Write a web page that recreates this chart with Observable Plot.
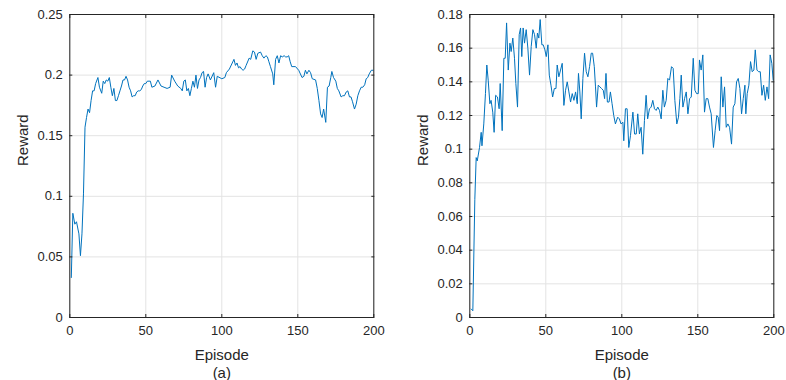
<!DOCTYPE html>
<html>
<head>
<meta charset="utf-8">
<script src="https://cdn.jsdelivr.net/npm/d3@7"></script>
<script src="https://cdn.jsdelivr.net/npm/@observablehq/plot@0.6"></script>
<style>
  html, body { margin: 0; padding: 0; background: #fff; }
  #wrap { width: 786px; height: 380px; display: flex; overflow: hidden; }
  #wrap > div { width: 393px; height: 380px; }
</style>
</head>
<body>
<div id="wrap"><div id="a"></div><div id="b"></div></div>
<script>
const xTicks = [0, 50, 100, 150, 200];
const yTicksA = [0, 0.05, 0.1, 0.15, 0.2, 0.25];
const yTicksB = [0, 0.02, 0.04, 0.06, 0.08, 0.1, 0.12, 0.14, 0.16, 0.18];
const panelLabels = ["(a)", "(b)"];
const xLabel = "Episode";
const yLabel = "Reward";

const episodesA = [1,2,3.3,4.4,6,7,8,9,10,11,12,13,14,15,16,17,18.5,19.5,21,22,23,24,25,26,27,28,29,30,31,32,33,34,35,36,37,38,39,40,41,42,43,44,45,46,47,48,49,50,51,53,54,56,58,60,62,64,66,67,69,71,73,74,75,76,77,78,79,80,81,82,83,84,85,86,87,88,89,90,91,92.5,94.7,95.9,97,100,102,103,105,108,109,110,111,112,113,114,115,116,118,119,120.4,121.5,122.6,123.7,125.5,126.6,127.7,129,130,131,132,133.5,134.2,135.4,136.5,137.6,138.7,139.8,141,142,143,144,145,146,148.5,150.6,152.8,154,155,156,157.3,158.4,159.5,161.7,162.8,163.9,165,166,167,168.4,169.5,170.6,171.7,172.4,173.5,175,176,177,178.5,179.6,180.7,181.8,182.9,184,185,186,187.3,188.4,189.5,190.6,191.7,192.8,194,195,196,197,198.4,199.5];
const rewardA = [0.033,0.086,0.077,0.079,0.069,0.051,0.069,0.102,0.157,0.165,0.172,0.169,0.179,0.187,0.187,0.193,0.198,0.190,0.185,0.195,0.193,0.196,0.195,0.198,0.190,0.183,0.189,0.179,0.179,0.183,0.187,0.191,0.196,0.196,0.199,0.196,0.190,0.187,0.182,0.183,0.183,0.186,0.187,0.187,0.188,0.191,0.193,0.193,0.195,0.195,0.190,0.191,0.196,0.191,0.190,0.189,0.190,0.200,0.195,0.191,0.189,0.187,0.195,0.196,0.187,0.189,0.183,0.189,0.195,0.190,0.200,0.189,0.196,0.198,0.202,0.203,0.190,0.198,0.201,0.196,0.202,0.190,0.199,0.197,0.198,0.202,0.205,0.213,0.208,0.210,0.206,0.207,0.205,0.204,0.205,0.208,0.214,0.213,0.220,0.219,0.213,0.218,0.219,0.216,0.214,0.216,0.215,0.211,0.207,0.201,0.192,0.213,0.216,0.210,0.216,0.215,0.216,0.215,0.215,0.216,0.211,0.207,0.207,0.204,0.198,0.199,0.204,0.201,0.204,0.202,0.197,0.196,0.189,0.179,0.168,0.165,0.172,0.161,0.190,0.191,0.198,0.203,0.198,0.195,0.189,0.187,0.182,0.183,0.183,0.186,0.187,0.182,0.182,0.178,0.172,0.176,0.183,0.187,0.190,0.190,0.192,0.197,0.198,0.201,0.204,0.204];

const episodesB = [1,2,3.3,4.2,4.9,6.4,7.5,8,9.2,10.3,11.2,12.1,13.2,14,15.1,16,17,18.2,19.3,20,21.3,22.4,23.3,24.2,25.3,26.4,27.2,28.3,29.4,30.3,31.4,32.5,33.4,34.2,35.1,36,37.1,38.2,39.3,40.4,41.5,42.6,43.7,44.5,45.4,46.3,47.4,48.3,49.4,50.3,51.4,52.3,53.4,54.5,55.6,56.7,57.5,58.6,59.7,60.8,61.9,63,64.1,65.2,66.3,67.4,68.5,69.6,70.7,71.5,72.4,73.3,74.4,75.5,76.6,77.7,78.8,79.9,80.8,81.9,82.7,83.4,84.5,85.6,86.7,87.8,88.7,89.6,90.5,91.6,92.5,93.6,94.7,95.8,97.3,98.4,99.5,100.7,101.3,102.4,103.5,104.6,105.7,107.3,108.4,109.5,110.5,111.6,112.7,113.8,114.9,116,117,118.2,119.3,120.4,121.5,122.6,123.7,124.8,125.9,127,128,129.2,130.3,131.4,132.7,133.8,134.9,136.2,137.3,138.2,139.1,140.2,141.3,142.4,143.5,144.6,145.7,147,148.1,149.2,150.3,151.1,152.2,153.3,154.4,155.5,156.6,157.7,158.8,160.3,161.4,162.5,163.4,164.3,165.4,166.5,167.6,168.7,169.8,170.9,172.2,173.3,174.4,175.5,176.6,177.7,178.8,179.9,181,181.6,182.5,183.6,184.7,185.8,186.9,187.8,188.9,190,191.1,192.2,193.3,194.4,195.5,196.6,197.6,198.7,199.6];
const rewardB = [0.005,0.004,0.070,0.095,0.093,0.101,0.110,0.102,0.115,0.133,0.150,0.141,0.127,0.129,0.122,0.110,0.132,0.131,0.124,0.139,0.111,0.154,0.154,0.175,0.147,0.163,0.158,0.166,0.154,0.139,0.125,0.168,0.172,0.155,0.172,0.163,0.171,0.160,0.144,0.161,0.171,0.168,0.160,0.169,0.166,0.177,0.162,0.162,0.159,0.155,0.162,0.144,0.138,0.131,0.136,0.136,0.150,0.143,0.147,0.151,0.126,0.135,0.140,0.134,0.128,0.133,0.129,0.134,0.127,0.145,0.134,0.118,0.142,0.157,0.146,0.143,0.149,0.157,0.157,0.149,0.137,0.125,0.138,0.137,0.136,0.135,0.130,0.145,0.128,0.128,0.134,0.127,0.120,0.115,0.119,0.118,0.115,0.116,0.105,0.124,0.124,0.101,0.108,0.122,0.109,0.109,0.121,0.109,0.113,0.097,0.117,0.132,0.118,0.124,0.125,0.129,0.124,0.123,0.125,0.123,0.118,0.135,0.125,0.129,0.142,0.141,0.149,0.148,0.129,0.115,0.119,0.130,0.144,0.125,0.130,0.134,0.121,0.130,0.131,0.154,0.135,0.133,0.133,0.153,0.147,0.156,0.122,0.130,0.130,0.125,0.121,0.101,0.111,0.120,0.119,0.111,0.143,0.125,0.137,0.113,0.115,0.113,0.103,0.125,0.127,0.140,0.142,0.136,0.121,0.130,0.138,0.121,0.133,0.138,0.152,0.146,0.147,0.159,0.147,0.146,0.146,0.132,0.138,0.129,0.137,0.130,0.156,0.151,0.141];

const FONT = "'Liberation Sans', Arial, Helvetica, sans-serif";
const INK = "#262626";
const fmt = d => String(+d.toFixed(2));

function panel(episodes, rewards, yTicks, yMax, label, mLeft, mRight) {
  const data = episodes.map((e, i) => ({episode: e, reward: rewards[i]}));
  return Plot.plot({
    width: 393, height: 380,
    marginLeft: mLeft, marginRight: mRight, marginTop: 14, marginBottom: 63,
    style: {fontFamily: FONT, fontSize: "13px", color: INK, background: "white", overflow: "visible"},
    x: {domain: [0, 200], label: null},
    y: {domain: [0, yMax], label: null},
    marks: [
      Plot.gridX(xTicks, {stroke: "#e3e3e3", strokeOpacity: 1}),
      Plot.gridY(yTicks, {stroke: "#e3e3e3", strokeOpacity: 1}),
      Plot.line(data, {x: "episode", y: "reward", stroke: "#0072BD", strokeWidth: 1}),
      Plot.frame({stroke: INK, strokeWidth: 1}),
      Plot.axisX(xTicks, {anchor: "bottom", tickSize: 0, tickPadding: 8, fontSize: 13, fill: INK, tickFormat: fmt}),
      Plot.axisX(xTicks, {anchor: "bottom", tickSize: -3, stroke: INK, tickFormat: () => ""}),
      Plot.axisX(xTicks, {anchor: "top", tickSize: -3, stroke: INK, tickFormat: () => ""}),
      Plot.axisY(yTicks, {anchor: "left", tickSize: 0, tickPadding: 7, fontSize: 13, fill: INK, tickFormat: fmt}),
      Plot.axisY(yTicks, {anchor: "left", tickSize: -3, stroke: INK, tickFormat: () => ""}),
      Plot.axisY(yTicks, {anchor: "right", tickSize: -3, stroke: INK, tickFormat: () => ""}),
      Plot.text([xLabel], {frameAnchor: "bottom", lineAnchor: "middle", dy: 38, fontSize: 15, fill: INK}),
      Plot.text([label], {frameAnchor: "bottom", lineAnchor: "middle", dy: 56, fontSize: 15, fill: INK}),
      Plot.text([yLabel], {frameAnchor: "left", lineAnchor: "middle", rotate: -90, dx: -47, fontSize: 15, fill: INK})
    ]
  });
}

document.getElementById("a").append(panel(episodesA, rewardA, yTicksA, 0.25, panelLabels[0], 69.3, 19.7));
document.getElementById("b").append(panel(episodesB, rewardB, yTicksB, 0.18, panelLabels[1], 76.3, 12.7));
</script>
</body>
</html>
